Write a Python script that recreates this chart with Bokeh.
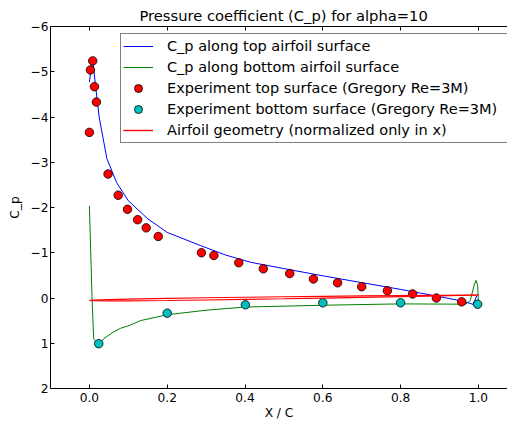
from bokeh.plotting import figure
from bokeh.models import Range1d, LinearAxis, FixedTicker, Legend, LegendItem
from bokeh.embed import file_html
from bokeh.resources import INLINE

# C_p along top airfoil surface (computed)
top_cp_x = [0.0, 0.004, 0.0095, 0.015, 0.025, 0.045, 0.07, 0.1, 0.15, 0.2, 0.285,
            0.35, 0.414, 0.5, 0.6, 0.7, 0.8, 0.9, 0.96, 0.986, 0.996]
top_cp_y = [-4.77, -5.05, -5.18, -4.75, -4.0, -3.08, -2.55, -2.15, -1.75, -1.45, -1.16,
            -0.95, -0.79, -0.65, -0.49, -0.34, -0.19, -0.03, 0.07, 0.14, -0.05]

# C_p along bottom airfoil surface (computed)
bot_cp_x = [0.0, 0.007, 0.011, 0.018, 0.024, 0.04, 0.062, 0.08, 0.105, 0.131, 0.2,
            0.3, 0.4, 0.6, 0.8, 0.967, 0.979, 0.99, 0.994, 0.998, 1.0]
bot_cp_y = [-2.04, 0.05, 0.9, 0.97, 1.01, 0.88, 0.75, 0.67, 0.6, 0.5, 0.37,
            0.27, 0.2, 0.16, 0.13, 0.137, 0.055, -0.31, -0.39, -0.28, 0.07]

# Experiment top surface (Gregory Re=3M)
exp_top_x = [0.0, 0.0026, 0.0085, 0.013, 0.018, 0.048, 0.074, 0.098, 0.124, 0.146,
             0.177, 0.288, 0.32, 0.384, 0.447, 0.515, 0.576, 0.638, 0.70, 0.766,
             0.831, 0.892, 0.957]
exp_top_y = [-3.66, -5.04, -5.24, -4.67, -4.33, -2.74, -2.27, -1.96, -1.73, -1.55,
             -1.36, -1.0, -0.94, -0.78, -0.645, -0.54, -0.42, -0.335, -0.25, -0.16,
             -0.09, 0.0, 0.085]

# Experiment bottom surface (Gregory Re=3M)
exp_bot_x = [0.024, 0.2, 0.401, 0.6, 0.8, 0.998]
exp_bot_y = [1.01, 0.335, 0.15, 0.106, 0.106, 0.137]

# Airfoil geometry (normalized only in x)
geo_x = [0.0, 0.01, 0.05, 0.1, 0.2, 0.3, 0.4, 0.5, 0.6, 0.7, 0.8, 0.9, 1.0]
geo_upper_y = [0.055, 0.047, 0.034, 0.023, 0.007, -0.006, -0.017, -0.028, -0.037,
               -0.045, -0.053, -0.060, -0.066]
geo_lower_y = [0.055, 0.061, 0.064, 0.062, 0.055, 0.044, 0.031, 0.017, 0.001,
               -0.015, -0.031, -0.048, -0.066]

x_ticks = [0.0, 0.2, 0.4, 0.6, 0.8, 1.0]
x_tick_labels = ["0.0", "0.2", "0.4", "0.6", "0.8", "1.0"]
y_ticks = [-6, -5, -4, -3, -2, -1, 0, 1, 2]
y_tick_labels = ["\u22126", "\u22125", "\u22124", "\u22123", "\u22122", "\u22121", "0", "1", "2"]

FONT = "DejaVu Sans"

p = figure(width=507, height=422, output_backend="svg", toolbar_location=None,
           x_range=Range1d(-0.1, 1.0748), y_range=Range1d(2, -6),
           x_axis_location=None, y_axis_location=None,
           min_border_left=50, min_border_right=0, min_border_top=26, min_border_bottom=34)
p.outline_line_color = None
p.xgrid.visible = False
p.ygrid.visible = False
p.background_fill_color = "white"
p.border_fill_color = "white"

p.title.text = "Pressure coefficient (C_p) for alpha=10"
p.title.text_font = FONT
p.title.text_font_size = "14.7px"
p.title.text_font_style = "normal"
p.title.text_color = "black"
p.title.align = "left"
p.title.offset = 89
p.title.standoff = 5
p.title.text_line_height = 1.0


def style_axis(ax):
    ax.axis_line_color = "black"
    ax.axis_line_width = 1
    ax.major_tick_in = 4
    ax.major_tick_out = 0
    ax.minor_tick_line_color = None
    ax.major_tick_line_color = "black"
    ax.major_label_text_font = FONT
    ax.major_label_text_font_size = "12.2px"
    ax.major_label_text_color = "black"
    ax.major_label_text_line_height = 1.0
    ax.axis_label_text_font = FONT
    ax.axis_label_text_font_size = "12.2px"
    ax.axis_label_text_font_style = "normal"
    ax.axis_label_text_color = "black"
    ax.axis_label_text_line_height = 1.0


xb = LinearAxis(ticker=FixedTicker(ticks=x_ticks), axis_label="X / C")
style_axis(xb)
xb.major_label_overrides = dict(zip(x_ticks, x_tick_labels))
xb.major_label_standoff = 4
xb.axis_label_standoff = 1
p.add_layout(xb, "below")

yl = LinearAxis(ticker=FixedTicker(ticks=y_ticks), axis_label="C_p")
style_axis(yl)
yl.major_label_overrides = dict(zip(y_ticks, y_tick_labels))
yl.major_label_standoff = 2
yl.axis_label_standoff = 6
p.add_layout(yl, "left")

xt = LinearAxis(ticker=FixedTicker(ticks=x_ticks))
style_axis(xt)
xt.major_label_overrides = {t: "" for t in x_ticks}
xt.major_label_standoff = 0
p.add_layout(xt, "above")

r_top = p.line(top_cp_x, top_cp_y, line_color="#0000ff", line_width=1)
r_bot = p.line(bot_cp_x, bot_cp_y, line_color="#008000", line_width=1)
r_et = p.scatter(exp_top_x, exp_top_y, marker="circle", size=8.5,
                 fill_color="#ff0000", line_color="black", line_width=0.8)
r_eb = p.scatter(exp_bot_x, exp_bot_y, marker="circle", size=8.5,
                 fill_color="#00bfbf", line_color="black", line_width=0.8)
r_gu = p.line(geo_x, geo_upper_y, line_color="#ff0000", line_width=1.2)
r_gl = p.line(geo_x, geo_lower_y, line_color="#ff0000", line_width=1.2)

legend = Legend(items=[
    LegendItem(label="C_p along top airfoil surface", renderers=[r_top]),
    LegendItem(label="C_p along bottom airfoil surface", renderers=[r_bot]),
    LegendItem(label="Experiment top surface (Gregory Re=3M)", renderers=[r_et]),
    LegendItem(label="Experiment bottom surface (Gregory Re=3M)", renderers=[r_eb]),
    LegendItem(label="Airfoil geometry (normalized only in x)", renderers=[r_gu, r_gl]),
], location=(70, 245))
legend.label_text_font = FONT
legend.label_text_font_size = "14.5px"
legend.label_text_color = "black"
legend.label_height = 20
legend.label_width = 345
legend.glyph_height = 20
legend.glyph_width = 30
legend.label_standoff = 14
legend.spacing = 1
legend.padding = 2
legend.margin = 0
legend.border_line_color = "black"
legend.border_line_width = 1
legend.background_fill_color = "white"
legend.background_fill_alpha = 1.0
p.add_layout(legend, "center")

open("out.html", "w").write(file_html(p, INLINE))
